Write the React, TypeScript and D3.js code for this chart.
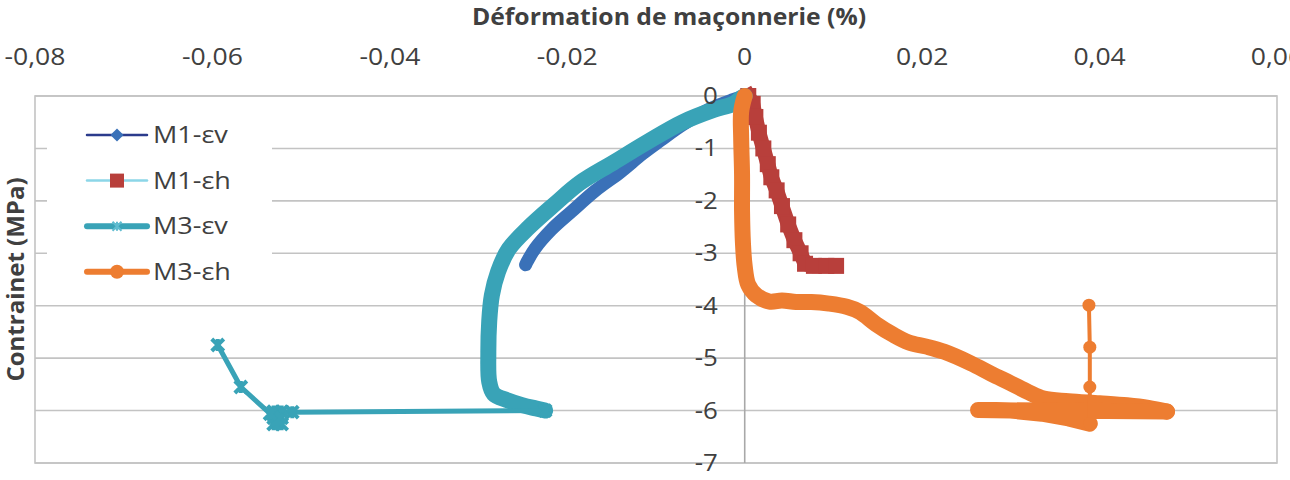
import { useEffect, useRef } from "react";
import * as d3 from "d3";

type Pt = [number, number];

// axis ticks (strain in %, stress in MPa)
const xTicks = [-0.08, -0.06, -0.04, -0.02, 0, 0.02, 0.04, 0.06];
const yTicks = [0, -1, -2, -3, -4, -5, -6, -7];
const seriesNames = ["M1-εv", "M1-εh", "M3-εv", "M3-εh"];

// M1 vertical strain (loading record)
const m1Ev: Pt[] = [
  [0, 0], [-0.0015, -0.08], [-0.004, -0.25], [-0.007, -0.55], [-0.0095, -0.85],
  [-0.0115, -1.1], [-0.014, -1.45], [-0.0168, -1.8], [-0.0195, -2.2],
  [-0.0218, -2.55], [-0.0236, -2.9], [-0.0245, -3.15], [-0.0247, -3.22],
];

// M1 horizontal strain
const m1Eh: Pt[] = [
  [0.0004, 0], [0.0009, -0.15], [0.0012, -0.4], [0.0016, -0.7], [0.0021, -1.0],
  [0.0026, -1.3], [0.003, -1.55], [0.0036, -1.8], [0.0042, -2.1], [0.0049, -2.45],
  [0.0056, -2.75], [0.0063, -3.0], [0.0068, -3.2], [0.0078, -3.24], [0.0092, -3.24],
  [0.0103, -3.24],
];

// M3 vertical strain: dense loading record, then sparse post-peak readings
const m3EvLoad: Pt[] = [
  [0, 0], [-0.0005, -0.05], [-0.0013, -0.15], [-0.0036, -0.27], [-0.007, -0.5],
  [-0.011, -0.88], [-0.0148, -1.27], [-0.0186, -1.66], [-0.0214, -2.06],
  [-0.0243, -2.5], [-0.0266, -2.92], [-0.0278, -3.35], [-0.0285, -3.8],
  [-0.0288, -4.3], [-0.0289, -4.9], [-0.0288, -5.45], [-0.0283, -5.68],
  [-0.0268, -5.8], [-0.025, -5.9], [-0.0235, -5.96], [-0.0225, -6.0],
];
const m3EvTail: Pt[] = [
  [-0.0225, -6.0], [-0.051, -6.03], [-0.0522, -6.02], [-0.0531, -6.02],
  [-0.0531, -6.14], [-0.0522, -6.14], [-0.0522, -6.26], [-0.0531, -6.26],
  [-0.0527, -6.18], [-0.0535, -6.06], [-0.0568, -5.55], [-0.0594, -4.75],
];

// M3 horizontal strain: loading record, return sweep, then sparse readings
const m3EhLoad: Pt[] = [
  [0, 0], [-0.0004, -0.3], [-0.0004, -0.8], [-0.0003, -1.5], [-0.0003, -2.2],
  [-0.0002, -2.8], [0, -3.25], [0.0004, -3.6], [0.0013, -3.8], [0.0028, -3.92],
  [0.0042, -3.9], [0.0058, -3.93], [0.0075, -3.93], [0.0095, -3.96],
  [0.0115, -4.02], [0.013, -4.12], [0.0148, -4.35], [0.0167, -4.55],
  [0.0185, -4.7], [0.0205, -4.78], [0.0225, -4.88], [0.0255, -5.1],
  [0.0278, -5.3], [0.03, -5.48], [0.032, -5.65], [0.0337, -5.77],
  [0.0365, -5.82], [0.04, -5.86], [0.0431, -5.9], [0.0455, -5.95],
  [0.0476, -6.02],
];
const m3EhReturn: Pt[] = [
  [0.0476, -6.02], [0.0263, -5.99], [0.03, -6.0], [0.0335, -6.06],
  [0.0365, -6.15], [0.0389, -6.25],
];
const m3EhTail: Pt[] = [
  [0.0389, -6.25], [0.0389, -5.55], [0.0389, -4.79], [0.0388, -3.99],
];

const W = 1290;
const H = 480;
const plot = { left: 35, right: 1277, top: 96, bottom: 463 };

const FONT = "'Open Sans', 'Liberation Sans', sans-serif";
const GRID = "#c3c3c3";
const TEXT = "#404040";

const BLUE = "#3a71b8";
const NAVY = "#2b3b8c";
const RED = "#b83f3b";
const CYAN = "#8cd6e8";
const TEAL = "#39a3b7";
const ORANGE = "#ed7d31";

const locale = d3.formatLocale({
  decimal: ",",
  thousands: " ",
  grouping: [3],
  currency: ["", " €"],
  minus: "-",
});
const fmtX = (v: number) => (v === 0 ? "0" : locale.format(".2f")(v));
const fmtY = locale.format("d");

const starPath = (s: number) =>
  `M${-s},${-s}L${s},${s}M${-s},${s}L${s},${-s}M0,${-s}L0,${s}`;

type Sel = d3.Selection<any, unknown, null, undefined>;

// text in the chart's wide face: Open Sans stretched horizontally
const addText = (
  parent: Sel,
  x: number,
  y: number,
  str: string,
  opts: { size: number; sx: number; anchor?: string; bold?: boolean }
) =>
  parent
    .append("text")
    .attr("transform", `translate(${x},${y}) scale(${opts.sx},1)`)
    .attr("text-anchor", opts.anchor ?? "start")
    .attr("font-family", FONT)
    .attr("font-size", opts.size)
    .attr("font-weight", opts.bold ? "bold" : "normal")
    .attr("fill", TEXT)
    .text(str);

export default function App() {
  const svgRef = useRef<SVGSVGElement | null>(null);

  useEffect(() => {
    const svg = d3.select(svgRef.current) as Sel;
    svg.selectAll("*").remove();

    const x = d3.scaleLinear().domain([-0.08, 0.06]).range([plot.left, plot.right]);
    const y = d3.scaleLinear().domain([-7, 0]).range([plot.bottom, plot.top]);
    const line = d3.line<Pt>().x((d) => x(d[0])).y((d) => y(d[1]));
    const smooth = d3
      .line<Pt>()
      .x((d) => x(d[0]))
      .y((d) => y(d[1]))
      .curve(d3.curveCatmullRom.alpha(0.5));

    svg.append("rect").attr("width", W).attr("height", H).attr("fill", "#fff");

    // horizontal gridlines
    svg
      .append("g")
      .selectAll("line")
      .data(yTicks)
      .join("line")
      .attr("x1", plot.left)
      .attr("x2", plot.right)
      .attr("y1", (d) => y(d))
      .attr("y2", (d) => y(d))
      .attr("stroke", GRID)
      .attr("stroke-width", 1.6);

    // plot frame
    svg
      .append("rect")
      .attr("x", plot.left)
      .attr("y", plot.top)
      .attr("width", plot.right - plot.left)
      .attr("height", plot.bottom - plot.top)
      .attr("fill", "none")
      .attr("stroke", GRID)
      .attr("stroke-width", 1.6);

    // vertical axis crosses at strain 0
    svg
      .append("line")
      .attr("x1", x(0))
      .attr("x2", x(0))
      .attr("y1", plot.top)
      .attr("y2", plot.bottom)
      .attr("stroke", "#a8a8a8")
      .attr("stroke-width", 1.6);

    const series = svg.append("g").attr("fill", "none");

    // M1-εv
    series
      .append("path")
      .attr("d", smooth(m1Ev))
      .attr("stroke", BLUE)
      .attr("stroke-width", 13)
      .attr("stroke-linejoin", "round")
      .attr("stroke-linecap", "round");

    // M1-εh : band of square markers
    series
      .append("path")
      .attr("d", line(m1Eh))
      .attr("stroke", RED)
      .attr("stroke-width", 15)
      .attr("stroke-linejoin", "round")
      .attr("stroke-linecap", "square");
    series
      .append("g")
      .selectAll("rect")
      .data(m1Eh)
      .join("rect")
      .attr("x", (d) => x(d[0]) - 8)
      .attr("y", (d) => y(d[1]) - 8)
      .attr("width", 16)
      .attr("height", 16)
      .attr("fill", RED);

    // M3-εv
    series
      .append("path")
      .attr("d", smooth(m3EvLoad))
      .attr("stroke", TEAL)
      .attr("stroke-width", 16)
      .attr("stroke-linejoin", "round")
      .attr("stroke-linecap", "round");
    series
      .append("path")
      .attr("d", line(m3EvTail))
      .attr("stroke", TEAL)
      .attr("stroke-width", 5)
      .attr("stroke-linejoin", "round");
    series
      .append("g")
      .selectAll("path")
      .data(m3EvTail)
      .join("path")
      .attr("transform", (d) => `translate(${x(d[0])},${y(d[1])})`)
      .attr("d", starPath(6))
      .attr("stroke", TEAL)
      .attr("stroke-width", 4);

    // M3-εh
    series
      .append("path")
      .attr("d", smooth(m3EhLoad))
      .attr("stroke", ORANGE)
      .attr("stroke-width", 16)
      .attr("stroke-linejoin", "round")
      .attr("stroke-linecap", "round");
    series
      .append("path")
      .attr("d", line(m3EhReturn))
      .attr("stroke", ORANGE)
      .attr("stroke-width", 16)
      .attr("stroke-linejoin", "round")
      .attr("stroke-linecap", "round");
    series
      .append("path")
      .attr("d", line(m3EhTail))
      .attr("stroke", ORANGE)
      .attr("stroke-width", 4);
    series
      .append("g")
      .selectAll("circle")
      .data(m3EhTail)
      .join("circle")
      .attr("cx", (d) => x(d[0]))
      .attr("cy", (d) => y(d[1]))
      .attr("r", 6.5)
      .attr("fill", ORANGE);

    // tick labels
    const xLab = svg.append("g");
    xTicks.forEach((t) =>
      addText(xLab, x(t), 65, fmtX(t), { size: 23.5, sx: 1.13, anchor: "middle" })
    );
    const yLab = svg.append("g");
    yTicks.forEach((t) =>
      addText(yLab, x(0) - 27, y(t) + 8, fmtY(t), { size: 23.5, sx: 1.1, anchor: "end" })
    );

    // axis titles
    addText(svg, 669, 25, "Déformation de maçonnerie (%)", {
      size: 24,
      sx: 1.03,
      anchor: "middle",
      bold: true,
    });
    svg
      .append("text")
      .attr("transform", `translate(24,${(plot.top + plot.bottom) / 2}) rotate(-90)`)
      .attr("text-anchor", "middle")
      .attr("font-family", FONT)
      .attr("font-weight", "bold")
      .attr("font-size", 24)
      .attr("fill", TEXT)
      .text("Contrainet (MPa)");

    // legend
    const legend = svg.append("g");
    legend
      .append("rect")
      .attr("x", 47)
      .attr("y", 110)
      .attr("width", 225)
      .attr("height", 186)
      .attr("fill", "#fff");

    const rowY = (i: number) => 135 + i * 45.6;
    const lx0 = 87;
    const lx1 = 147;
    const mx = 117;
    const legendLine = [
      { color: NAVY, width: 2.5 },
      { color: CYAN, width: 2.5 },
      { color: TEAL, width: 6 },
      { color: ORANGE, width: 6 },
    ];
    seriesNames.forEach((name, i) => {
      const cy = rowY(i);
      legend
        .append("line")
        .attr("x1", lx0)
        .attr("x2", lx1)
        .attr("y1", cy)
        .attr("y2", cy)
        .attr("stroke", legendLine[i].color)
        .attr("stroke-width", legendLine[i].width)
        .attr("stroke-linecap", "round");
      if (i === 0) {
        legend
          .append("path")
          .attr("d", d3.symbol(d3.symbolDiamond2, 110)())
          .attr("transform", `translate(${mx},${cy})`)
          .attr("fill", BLUE);
      } else if (i === 1) {
        legend
          .append("rect")
          .attr("x", mx - 7)
          .attr("y", cy - 7)
          .attr("width", 14)
          .attr("height", 14)
          .attr("fill", RED);
      } else if (i === 2) {
        legend
          .append("path")
          .attr("d", starPath(4.5))
          .attr("transform", `translate(${mx},${cy})`)
          .attr("stroke", "#5fbcd0")
          .attr("stroke-width", 2)
          .attr("fill", "none");
      } else {
        legend
          .append("circle")
          .attr("cx", mx)
          .attr("cy", cy)
          .attr("r", 7)
          .attr("fill", ORANGE);
      }
      addText(legend, 153, cy + 8, name, { size: 23.5, sx: 1.15 });
    });
  }, []);

  return (
    <svg
      ref={svgRef}
      width={W}
      height={H}
      style={{ position: "absolute", left: 0, top: 0 }}
    />
  );
}
